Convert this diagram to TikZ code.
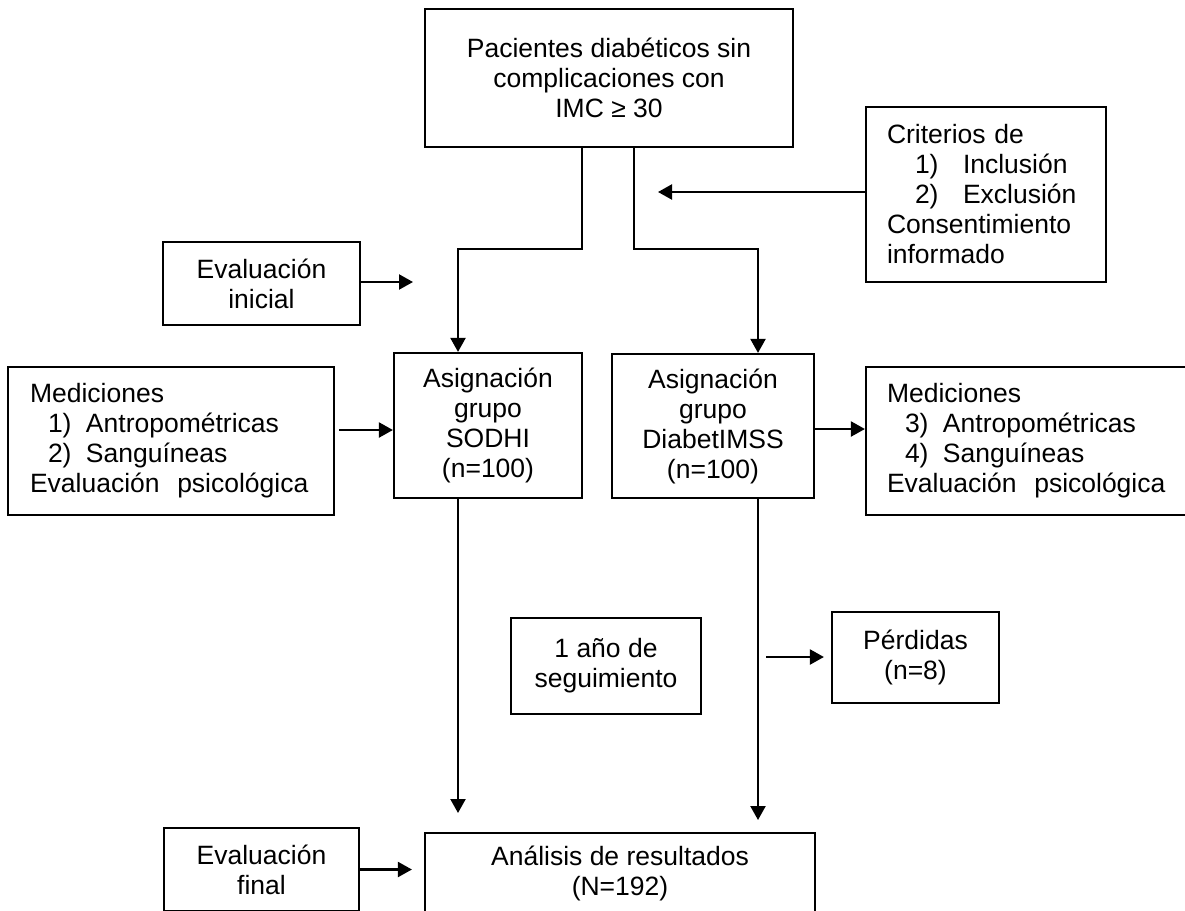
\documentclass[tikz,border=0pt]{standalone}
\usepackage{fontspec}
\setmainfont{Liberation Sans}
\usetikzlibrary{arrows.meta}

\begin{document}
\begin{tikzpicture}[x=1pt, y=-1pt,
    box/.style={draw, rectangle, line width=2.2pt, inner sep=0pt, align=center},
    arr/.style={line width=2.2pt, -{Triangle[length=14pt, width=15pt]}},
    font=\fontsize{26.5}{30}\selectfont]

    \useasboundingbox (0,0) rectangle (1185,910);

    % boxes
    \node[box, minimum width=368pt, minimum height=138pt](pac) at (609,78) {Pacientes diabéticos sin\\complicaciones con\\IMC ≥ 30};
    \node[box, align=left, text width=198pt, minimum width=240pt, minimum height=175pt](crit) at (986,194.5) {Criterios de\\
        \hspace*{28pt}\makebox[48pt][l]{1)}Inclusión\\
        \hspace*{28pt}\makebox[48pt][l]{2)}Exclusión\\
        Consentimiento\\informado};
    \node[box, minimum width=197pt, minimum height=83pt](ini) at (261.5,283.5) {Evaluación\\inicial};
    \node[box, align=left, text width=282pt, minimum width=326pt, minimum height=148pt](medl) at (171,441) {Mediciones\\
        \hspace*{18pt}\makebox[38pt][l]{1)}Antropométricas\\
        \hspace*{18pt}\makebox[38pt][l]{2)}Sanguíneas\\
        Evaluación~~psicológica};
    \node[box, minimum width=188pt, minimum height=145pt](sodhi) at (488,425.5) {Asignación\\grupo\\SODHI\\(n=100)};
    \node[box, minimum width=202pt, minimum height=144pt](diab) at (713,426) {Asignación\\grupo\\DiabetIMSS\\(n=100)};
    \node[box, align=left, text width=284pt, minimum width=326pt, minimum height=148pt](medr) at (1029,441) {Mediciones\\
        \hspace*{18pt}\makebox[38pt][l]{3)}Antropométricas\\
        \hspace*{18pt}\makebox[38pt][l]{4)}Sanguíneas\\
        Evaluación~~psicológica};
    \node[box, minimum width=190pt, minimum height=96pt](seg) at (606,666) {1 año de\\seguimiento};
    \node[box, minimum width=167pt, minimum height=91pt](perd) at (915.5,657.5) {Pérdidas\\(n=8)};
    \node[box, minimum width=195pt, minimum height=83pt](fin) at (261.5,869.5) {Evaluación\\final};
    \node[box, minimum width=390pt, minimum height=80pt](ana) at (620,873) {Análisis de resultados\\(N=192)};

    % free ends
    \coordinate (critend) at (658,192);
    \coordinate (iniend) at (413,282);
    \coordinate (sodhiend) at (458,813);
    \coordinate (diabend) at (758,820);
    \coordinate (perdstart) at (766,657);

    % connectors
    \draw[arr] ([xshift=-27pt]pac.south) -- ++(0,101) -| ([xshift=-30pt]sodhi.north);
    \draw[arr] ([xshift=25pt]pac.south) -- ++(0,101) -| ([xshift=45pt]diab.north);
    \draw[arr] (crit.west |- critend) -- (critend);
    \draw[arr] (ini.east |- iniend) -- (iniend);
    \draw[arr, shorten <=4pt] (medl.east |- 0,430) -- (sodhi.west |- 0,430);
    \draw[arr] (diab.east |- 0,429) -- (medr.west |- 0,429);
    \draw[arr] ([xshift=-30pt]sodhi.south) -- (sodhiend);
    \draw[arr] ([xshift=45pt]diab.south) -- (diabend);
    \draw[arr, shorten >=7pt] (perdstart) -- (perd.west |- perdstart);
    \draw[arr, shorten >=12pt] (fin.east) -- (fin.east -| ana.west);

\end{tikzpicture}
\end{document}
